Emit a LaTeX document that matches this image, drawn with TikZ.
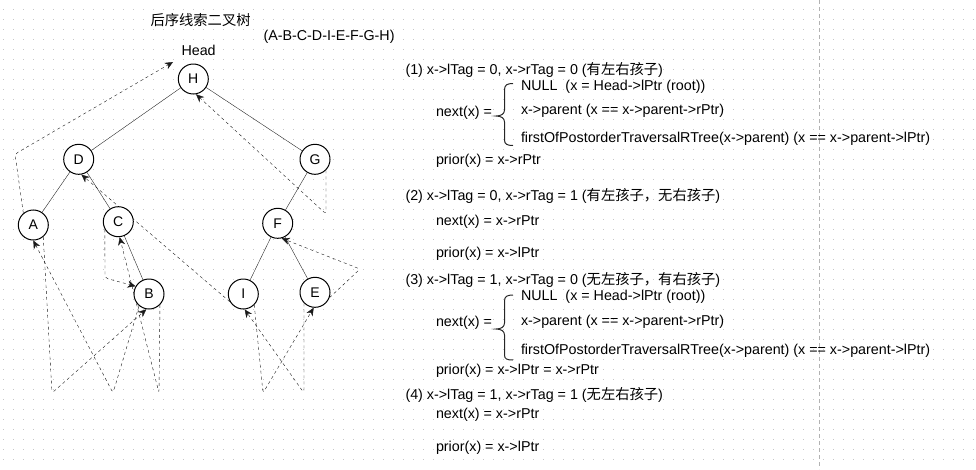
\documentclass[tikz,border=0pt]{standalone}
\usepackage{fontspec}
\setmainfont{Liberation Sans}
\newfontfamily\cjk{Noto Sans CJK SC}
\usetikzlibrary{arrows.meta,backgrounds}

\begin{document}
\begin{tikzpicture}[x=1pt,y=-1pt,line width=1pt,
    vertex/.style={circle,draw=black,fill=white,minimum size=30pt,inner sep=0pt,font=\fontsize{14}{16}\selectfont},
    txt/.style={anchor=west,inner sep=0pt,font=\fontsize{14.3}{16}\selectfont},
    edge/.style={draw=black!85},
    thread/.style={draw=black!90,dashed,rounded corners=3pt,-{Stealth[length=8pt,width=7pt,inset=2.5pt]}},
    brace/.style={draw=black!85},
    griddot/.style={draw=black!22,dash pattern=on 1pt off 9pt}]
    \useasboundingbox (0,0) rectangle (976,469);
    % tree
    \node[vertex] (H) at (193.3,79) {H};
    \node[vertex] (D) at (78.7,159.3) {D};
    \node[vertex] (G) at (315,159.3) {G};
    \node[vertex] (A) at (33.3,225) {A};
    \node[vertex] (C) at (118.3,221.7) {C};
    \node[vertex] (F) at (277.7,223.3) {F};
    \node[vertex] (B) at (149,294) {B};
    \node[vertex] (I) at (243.3,294) {I};
    \node[vertex] (E) at (315,292.3) {E};
    \node[txt] (title) at (150,20) {\cjk 后序线索二叉树};
    \node[txt] (order) at (263,37) {(A-B-C-D-I-E-F-G-H)};
    \node[txt] (head) at (181,50) {Head};
    \coordinate (headptr) at (173,62);
    \begin{scope}[on background layer]
    \foreach \gy in {9.5,19.5,...,469} \draw[griddot] (2.8,\gy) -- (976,\gy);
    \draw[draw=black!30,dash pattern=on 4pt off 3pt,line width=0.8pt] (819,0) -- (819,469);
    \draw[edge] (H) -- (D);
    \draw[edge] (H) -- (G);
    \draw[edge] (D) -- (A);
    \draw[edge] (D) -- (C);
    \draw[edge] (C) -- (B);
    \draw[edge] (G) -- (F);
    \draw[edge] (F) -- (I);
    \draw[edge] (F) -- (E);
    % threads
    \draw[thread] (A.130) -- (15,154) -- (headptr);
    \draw[thread] (A.-50) -- (52,393) -- (B.-100);
    \draw[thread] (B.-130) -- (113,393) -- (A.-90);
    \draw[thread] (B.-45) -- (159,393) -- (C.-85);
    \draw[thread] (C.-150) -- (105,278) -- (B.150);
    \draw[thread] (I.-150) -- (D.-80);
    \draw[thread] (I.-45) -- (263,393) -- (E.-95);
    \draw[thread] (E.-135) -- (304,393) -- (I.-85);
    \draw[thread] (E.-20) -- (360,269) -- (F.-75);
    \draw[thread] (G.-45) -- (326,214) -- (H.-80);
    \end{scope}
    % case (1)
    \node[txt] (c1) at (405,70) {(1) x->lTag = 0, x->rTag = 0 ({\cjk 有左右孩子})};
    \node[txt] (c1null) at (520.5,87) {NULL\ \ (x = Head->lPtr (root))};
    \node[txt] (c1next) at (435.5,113) {next(x) =};
    \node[txt] (c1par) at (520.5,110.5) {x->parent (x == x->parent->rPtr)};
    \node[txt] (c1first) at (520.5,138.5) {firstOfPostorderTraversalRTree(x->parent) (x == x->parent->lPtr)};
    \node[txt] (c1prior) at (435.5,161) {prior(x) = x->rPtr};
    \draw[brace] (513,83.5) .. controls (507,83.5) and (504.5,85) .. (504.5,90) -- (504.5,110) .. controls (504.5,114) and (501,116) .. (496,116) .. controls (501,116) and (504.5,118) .. (504.5,122) -- (504.5,140) .. controls (504.5,144) and (507,145.5) .. (513,145.5);
    % case (2)
    \node[txt] (c2) at (405,195.5) {(2) x->lTag = 0, x->rTag = 1 ({\cjk 有左孩子，无右孩子})};
    \node[txt] (c2next) at (435.5,222) {next(x) = x->rPtr};
    \node[txt] (c2prior) at (435.5,254) {prior(x) = x->lPtr};
    % case (3)
    \node[txt] (c3) at (405,280) {(3) x->lTag = 1, x->rTag = 0 ({\cjk 无左孩子，有右孩子})};
    \node[txt] (c3null) at (520.5,297) {NULL\ \ (x = Head->lPtr (root))};
    \node[txt] (c3next) at (435.5,323) {next(x) =};
    \node[txt] (c3par) at (520.5,322) {x->parent (x == x->parent->rPtr)};
    \node[txt] (c3first) at (520.5,351) {firstOfPostorderTraversalRTree(x->parent) (x == x->parent->lPtr)};
    \node[txt] (c3prior) at (435.5,371) {prior(x) = x->lPtr = x->rPtr};
    \draw[brace] (513,295) .. controls (507,295) and (504.5,296.5) .. (504.5,301) -- (504.5,323) .. controls (504.5,327) and (501,329) .. (496,329) .. controls (501,329) and (504.5,331) .. (504.5,335) -- (504.5,355) .. controls (504.5,359) and (507,360) .. (513,360);
    % case (4)
    \node[txt] (c4) at (405,395) {(4) x->lTag = 1, x->rTag = 1 ({\cjk 无左右孩子})};
    \node[txt] (c4next) at (435.5,415) {next(x) = x->rPtr};
    \node[txt] (c4prior) at (435.5,448) {prior(x) = x->lPtr};
\end{tikzpicture}
\end{document}
